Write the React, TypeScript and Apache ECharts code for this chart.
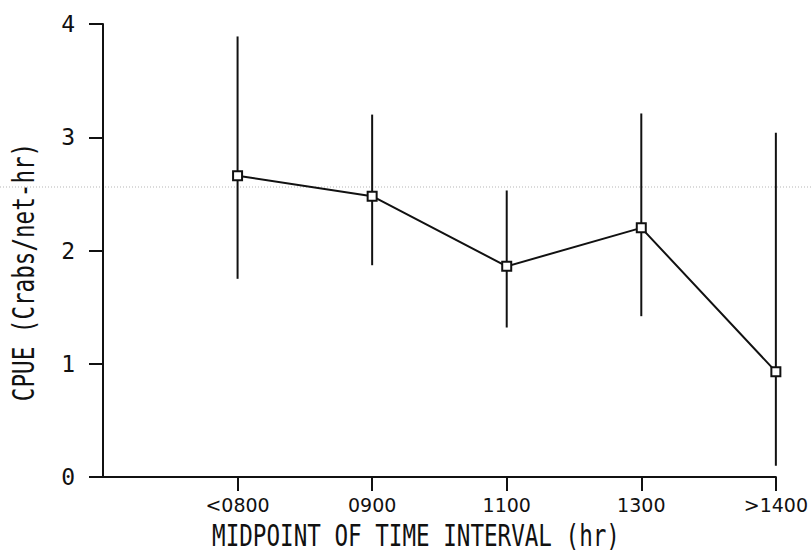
import React, { useEffect, useRef } from "react";
import * as echarts from "echarts";

const categories = ["<0800", "0900", "1100", "1300", ">1400"];
const cpue = [2.66, 2.48, 1.86, 2.2, 0.93];
const lower = [1.75, 1.87, 1.32, 1.42, 0.1];
const upper = [3.89, 3.2, 2.53, 3.21, 3.04];
const yTicks = [0, 1, 2, 3, 4];
const xTitle = "MIDPOINT OF TIME INTERVAL (hr)";
const yTitle = "CPUE (Crabs/net-hr)";

export default function App() {
  const ref = useRef<HTMLDivElement>(null);
  useEffect(() => {
    if (!ref.current) return;
    const chart = echarts.init(ref.current, null, { renderer: "svg" });
    const xPos = categories.map((_, i) => i + 1);
    const ink = "#111";
    const plotFont = "DejaVu Sans Mono";
    chart.setOption({
      animation: false,
      backgroundColor: "#fff",
      grid: { left: 103, right: 28, top: 24, bottom: 77, containLabel: false },
      xAxis: {
        type: "value",
        min: 0,
        max: categories.length,
        interval: 1,
        splitLine: { show: false },
        axisLine: { show: true, onZero: false, lineStyle: { color: ink, width: 2 } },
        axisTick: {
          show: true,
          inside: false,
          length: 14,
          customValues: xPos,
          lineStyle: { color: ink, width: 2 },
        },
        axisLabel: {
          customValues: xPos,
          margin: 18,
          color: ink,
          fontFamily: "DejaVu Sans",
          fontSize: 19,
          formatter: (v: number) => categories[Math.round(v) - 1] ?? "",
        },
      },
      yAxis: {
        type: "value",
        min: yTicks[0],
        max: yTicks[yTicks.length - 1],
        interval: 1,
        splitLine: { show: false },
        axisLine: { show: true, lineStyle: { color: ink, width: 2 } },
        axisTick: { show: true, inside: false, length: 14, lineStyle: { color: ink, width: 2 } },
        axisLabel: {
          margin: 28,
          color: ink,
          fontFamily: plotFont,
          fontSize: 23,
        },
      },
      graphic: [
        {
          type: "line",
          silent: true,
          z: -1,
          shape: { x1: 0, y1: 187, x2: 811, y2: 187 },
          style: { stroke: "#b5b5b5", lineWidth: 1, lineDash: [1, 2] },
        },
        {
          type: "text",
          x: 416,
          y: 535,
          scaleX: 1,
          scaleY: 1.35,
          style: {
            text: xTitle,
            font: `22.6px "${plotFont}"`,
            fill: ink,
            align: "center",
            verticalAlign: "middle",
          },
        },
        {
          type: "text",
          x: 23,
          y: 272,
          rotation: Math.PI / 2,
          scaleX: 1,
          scaleY: 1.35,
          style: {
            text: yTitle,
            font: `22.6px "${plotFont}"`,
            fill: ink,
            align: "center",
            verticalAlign: "middle",
          },
        },
      ],
      series: [
        {
          type: "custom",
          data: xPos.map((x, i) => [x, lower[i], upper[i]]),
          renderItem: (params: any, api: any) => {
            const x = api.value(0);
            const lo = api.coord([x, api.value(1)]);
            const hi = api.coord([x, api.value(2)]);
            return {
              type: "line",
              shape: { x1: lo[0], y1: lo[1], x2: hi[0], y2: hi[1] },
              style: { stroke: ink, lineWidth: 2 },
            };
          },
          z: 1,
        },
        {
          type: "line",
          data: xPos.map((x, i) => [x, cpue[i]]),
          symbol: "rect",
          symbolSize: 9,
          showSymbol: true,
          lineStyle: { color: ink, width: 2 },
          itemStyle: { color: "#fff", borderColor: ink, borderWidth: 2 },
          z: 3,
        },
      ],
    });
    return () => chart.dispose();
  }, []);
  return (
    <div
      ref={ref}
      style={{ position: "fixed", left: 0, top: 0, width: 811, height: 554 }}
    />
  );
}
